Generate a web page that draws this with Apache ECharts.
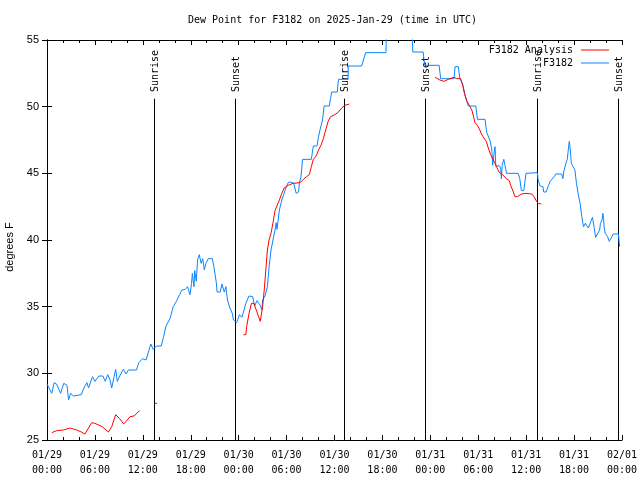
<!DOCTYPE html>
<html>
<head>
<meta charset="utf-8">
<script src="https://cdn.jsdelivr.net/npm/echarts@6/dist/echarts.min.js"></script>
<style>html,body{margin:0;padding:0;background:#fff;}#c{width:640px;height:480px;}</style>
</head>
<body>
<div id="c"></div>
<script>
// Hours since 2025-01-29 00:00 UTC
var xTickLabels = ['01/29\n00:00','01/29\n06:00','01/29\n12:00','01/29\n18:00','01/30\n00:00','01/30\n06:00','01/30\n12:00','01/30\n18:00','01/31\n00:00','01/31\n06:00','01/31\n12:00','01/31\n18:00','02/01\n00:00'];
var yTicks = [25, 30, 35, 40, 45, 50, 55];

var sunHours = [13.37, 23.48, 37.23, 47.33, 61.32, 71.54];
var sunLabels = ['Sunrise', 'Sunset', 'Sunrise', 'Sunset', 'Sunrise', 'Sunset'];

var obsHours = [0.0,0.6,0.9,1.2,1.7,2.1,2.5,2.7,2.96,3.3,4.3,4.7,5.0,5.2,5.4,5.7,6.0,6.5,7.0,7.3,7.6,7.9,8.1,8.4,8.6,8.8,9.1,9.55,9.9,10.2,11.2,11.5,11.97,12.4,12.56,13.0,13.3,13.7,14.3,14.6,14.9,15.1,15.4,15.8,16.2,16.6,16.9,17.3,17.6,17.9,18.1,18.2,18.4,18.5,18.7,18.85,19.07,19.3,19.5,19.7,19.9,20.2,20.7,20.9,21.2,21.3,21.7,21.9,22.2,22.4,22.6,22.9,23.2,23.35,23.75,24.1,24.4,24.6,24.9,25.3,25.75,26.0,26.3,26.7,26.9,27.0,27.3,27.6,27.8,28.05,28.3,28.55,28.7,28.8,29.1,29.4,29.7,29.9,30.2,30.5,30.9,31.2,31.5,31.6,31.8,32.0,33.1,33.35,33.8,34.0,34.2,34.5,34.7,35.35,35.5,35.65,36.35,36.5,37.7,37.72,39.4,39.9,42.45,42.5,45.7,45.8,47.1,47.2,47.3,49.1,49.3,50.96,51.1,51.5,51.7,51.9,52.05,52.3,52.55,52.76,53.7,53.9,54.85,55.05,55.26,55.5,55.7,55.8,56.0,56.1,56.2,56.4,56.6,56.8,56.9,57.0,57.2,57.3,57.55,59.0,59.2,59.4,59.7,59.98,61.4,61.5,61.75,62.1,62.2,62.5,62.65,62.8,63.0,63.2,63.5,63.7,64.45,64.6,64.7,64.97,65.15,65.3,65.4,65.5,65.6,65.65,65.9,66.1,66.3,66.5,66.75,66.97,67.1,67.2,67.4,67.6,67.8,68.1,68.3,68.5,68.7,68.9,69.2,69.3,69.5,69.6,69.7,69.75,69.9,70.2,70.4,70.6,70.9,71.55,71.7];
var obsValues = [29.2,28.5,29.3,29.2,28.5,29.25,29.1,28.0,28.5,28.3,28.4,29.0,29.3,28.9,28.8,29.75,29.4,29.8,29.8,29.4,29.9,29.5,28.9,29.75,30.3,29.4,29.8,30.3,29.95,30.25,30.25,30.8,31.1,31.0,31.0,32.2,31.8,32.05,32.05,32.75,33.55,33.6,34.1,35.0,35.4,35.9,36.25,36.3,36.5,35.9,36.75,37.5,36.5,37.7,36.9,38.5,38.9,38.25,38.6,37.75,38.25,38.6,38.6,38.0,36.8,36.1,36.1,36.7,36.1,36.5,35.5,34.9,34.5,34.0,33.8,34.4,34.2,34.6,35.25,35.8,35.75,35.05,35.45,35.1,34.75,35.5,35.8,36.5,37.9,39.25,40.0,40.75,41.3,40.8,42.25,43.0,43.5,43.9,44.3,44.35,44.25,43.5,43.6,44.25,44.75,46.05,46.05,47.05,47.05,47.75,48.3,49.0,50.05,50.05,50.6,51.1,51.1,52.05,52.05,53.05,53.05,54.05,54.05,56.0,56.0,54.1,54.1,53.6,53.1,53.1,52.1,52.1,53.0,53.0,52.1,52.1,51.7,51.0,50.4,50.05,50.05,49.05,49.05,48.1,48.0,47.4,46.75,45.6,46.6,47.0,45.5,45.6,45.6,45.4,44.6,45.6,46.05,46.05,45.0,45.0,44.6,43.7,43.7,45.0,45.05,44.5,44.05,44.0,43.6,43.6,43.45,44.1,44.4,44.3,44.75,44.95,44.95,44.6,45.1,45.75,46.05,46.9,47.4,46.9,46.2,45.75,45.75,45.25,44.25,43.5,42.75,41.75,41.25,41.0,41.25,41.1,40.9,41.4,41.7,41.0,40.2,40.25,40.75,41.25,41.5,42.0,41.6,41.0,40.5,40.25,39.9,40.1,40.45,40.45,39.5];

// Analysis (null = gap)
var anaHours = [0.6,1.2,2.05,2.9,3.7,4.3,4.75,5.0,5.6,6.0,6.9,7.7,8.1,8.6,9.1,9.6,9.9,10.4,10.9,11.6,12.5,13.5,13.8,19.0,24.6,24.9,25.0,25.3,25.6,25.9,26.2,26.5,26.7,26.9,27.0,27.2,27.4,27.6,27.8,28.05,28.3,28.55,28.8,29.1,29.4,29.7,30.2,30.8,31.7,32.1,32.5,32.85,33.1,33.35,33.7,34.0,34.3,34.6,34.9,35.2,35.5,36.05,36.5,36.9,37.3,37.86,43.0,48.6,49.2,49.7,50.25,50.96,51.3,51.8,52.05,52.3,52.6,53.2,53.6,53.9,54.2,54.4,54.6,55.0,55.26,55.55,55.9,56.3,56.6,57.05,57.5,57.9,58.05,58.3,58.6,58.9,59.4,59.98,60.7,60.98,61.2,61.5,61.9];
var anaValues = [25.55,25.7,25.75,25.9,25.75,25.6,25.45,25.5,26.3,26.25,26.0,25.6,26.0,26.9,26.6,26.2,26.4,26.75,26.8,27.2,null,27.75,27.75,null,32.9,32.9,33.5,34.5,35.25,35.25,34.75,34.25,33.9,33.9,35.0,36.25,37.75,39.25,40.0,40.5,41.3,42.2,42.3,43.0,43.5,43.9,44.1,44.25,44.3,44.55,44.75,44.9,45.5,46.05,46.3,46.75,47.1,47.6,48.25,48.9,49.25,49.4,49.6,49.9,50.1,50.2,null,52.2,52.0,51.9,52.05,52.2,52.1,52.1,51.6,50.9,50.4,49.75,48.8,48.6,48.25,47.95,47.75,47.4,46.9,46.4,46.0,45.5,45.1,44.9,44.6,44.45,44.1,43.75,43.25,43.25,43.45,43.5,43.45,43.25,43.0,42.75,42.7];

var RED = '#ff0000', BLUE = '#0a84ff';
var MONO = '"DejaVu Sans Mono", "Liberation Mono", monospace';
var SANS = '"Liberation Sans", Arial, sans-serif';

function zip(a, b) { return a.map(function (v, i) { return [v, b[i]]; }); }

var chart = echarts.init(document.getElementById('c'), null, { renderer: 'canvas' });

var xCommon = {
  type: 'value', min: 0, max: 72, interval: 6,
  axisLine: { show: true, lineStyle: { color: '#000', width: 1 } },
  axisTick: { show: true, inside: true, length: 5, lineStyle: { color: '#000' } },
  minorTick: { show: true, splitNumber: 3, length: 3, lineStyle: { color: '#000' } },
  splitLine: { show: false }
};
var yCommon = {
  type: 'value', min: 25, max: 55, interval: 5,
  axisLine: { show: true, lineStyle: { color: '#000', width: 1 } },
  axisTick: { show: true, inside: true, length: 5, lineStyle: { color: '#000' } },
  splitLine: { show: false }
};

var legendCommon = {
  right: 26, itemWidth: 28, itemHeight: 1, itemGap: 8, align: 'right', selectedMode: false,
  textStyle: { fontFamily: MONO, fontSize: 10, color: '#000', padding: [0, 3, 0, 0] }
};

chart.setOption({
  animation: false,
  backgroundColor: '#fff',
  title: {
    text: 'Dew Point for F3182 on 2025-Jan-29 (time in UTC)',
    left: 183, top: 10,
    textStyle: { fontFamily: MONO, fontSize: 10, fontWeight: 'normal', color: '#000' }
  },
  legend: [
    Object.assign({}, legendCommon, { data: [{ name: 'F3182 Analysis', icon: 'rect' }], top: 40 }),
    Object.assign({}, legendCommon, { data: [{ name: 'F3182', icon: 'rect' }], top: 53 })
  ],
  grid: { left: 47, right: 18, top: 40, bottom: 40, show: false, containLabel: false, outerBoundsMode: 'none' },
  xAxis: [
    Object.assign({}, xCommon, { position: 'bottom',
      axisLabel: { show: true, margin: 8, color: '#000', fontFamily: MONO, fontSize: 10, lineHeight: 15,
        formatter: function (v) { var i = Math.round(v / 6); return xTickLabels[i] || ''; } } }),
    Object.assign({}, xCommon, { position: 'top', axisLabel: { show: false } })
  ],
  yAxis: [
    Object.assign({}, yCommon, { position: 'left',
      name: 'degrees F', nameLocation: 'middle', nameGap: 31, nameRotate: 90,
      nameTextStyle: { fontFamily: SANS, fontSize: 11, color: '#000', padding: [0, 14, 0, 0] },
      axisLabel: { show: true, margin: 8, color: '#000', fontFamily: SANS, fontSize: 11,
        formatter: function (v) { return yTicks.indexOf(v) >= 0 ? String(v) : ''; } } }),
    Object.assign({}, yCommon, { position: 'right', axisLabel: { show: false } })
  ],
  series: [
    {
      type: 'custom', name: 'sun', xAxisIndex: 0, yAxisIndex: 0, silent: true, clip: false, z: 1,
      data: sunHours.map(function (h) { return [h, 25]; }),
      renderItem: function (params, api) {
        var x = api.value(0);
        var p0 = api.coord([x, 25]);
        var p1 = api.coord([x, 50.6]);
        var pt = api.coord([x, 51.1]);
        var px = Math.round(p0[0]) + 0.5;
        return {
          type: 'group',
          children: [
            { type: 'line', shape: { x1: px, y1: p0[1], x2: px, y2: p1[1] }, style: { stroke: '#000', lineWidth: 1 } },
            { type: 'text', x: px + 1, y: pt[1], rotation: Math.PI / 2,
              style: { text: sunLabels[params.dataIndex], font: '10px ' + MONO, fill: '#000', align: 'left', verticalAlign: 'middle' } }
          ]
        };
      }
    },
    {
      type: 'line', name: 'F3182 Analysis', data: zip(anaHours, anaValues), connectNulls: false,
      showSymbol: false, symbol: 'none', lineStyle: { color: RED, width: 1 }, itemStyle: { color: RED }, z: 3
    },
    {
      type: 'line', name: 'F3182', data: zip(obsHours, obsValues),
      showSymbol: false, symbol: 'none', lineStyle: { color: BLUE, width: 1 }, itemStyle: { color: BLUE }, z: 2
    }
  ]
});
</script>
</body>
</html>
